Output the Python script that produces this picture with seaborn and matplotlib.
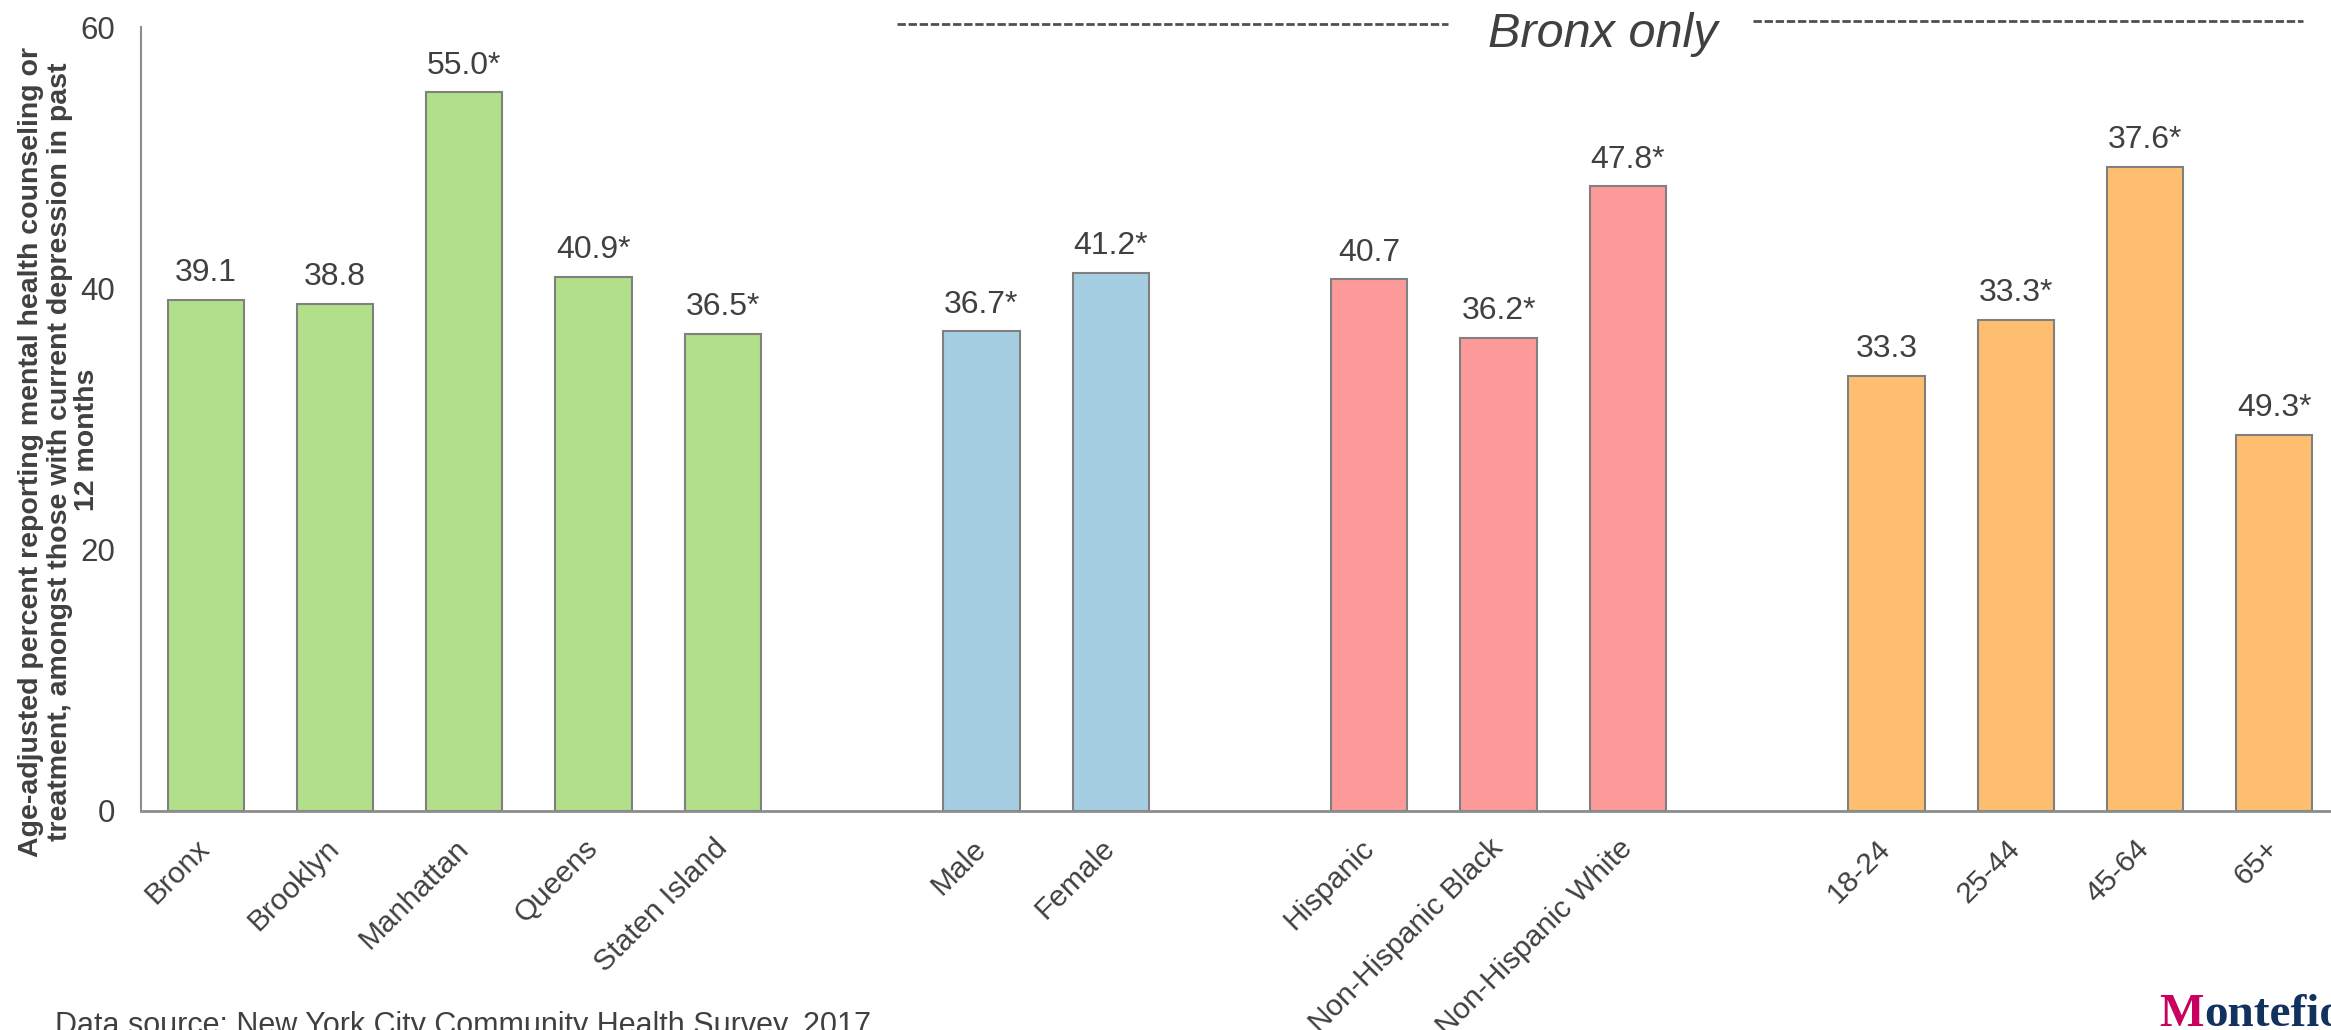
import numpy as np
import pandas as pd
import seaborn as sns
import matplotlib.pyplot as plt
from matplotlib.lines import Line2D

# --- data ---
boroughs = ["Bronx", "Brooklyn", "Manhattan", "Queens", "Staten Island"]
borough_values = [39.1, 38.8, 55.0, 40.9, 36.5]
borough_labels = ["39.1", "38.8", "55.0*", "40.9*", "36.5*"]

sexes = ["Male", "Female"]
sex_values = [36.7, 41.2]
sex_labels = ["36.7*", "41.2*"]

races = ["Hispanic", "Non-Hispanic Black", "Non-Hispanic White"]
race_values = [40.7, 36.2, 47.8]
race_labels = ["40.7", "36.2*", "47.8*"]

ages = ["18-24", "25-44", "45-64", "65+"]
age_values = [33.3, 37.6, 49.3, 28.8]
age_labels = ["33.3", "33.3*", "37.6*", "49.3*"]

group_colors = {"Borough": "#b2df8a", "Sex": "#a6cee3",
                "Race": "#fb9a99", "Age": "#fdbf6f"}

y_title_lines = ["Age-adjusted percent reporting mental health counseling or",
                 "treatment, amongst those with current depression in past",
                 "12 months"]
source = "Data source: New York City Community Health Survey, 2017"

# --- build table ---
rows = []
for grp, cats, vals, labs in [("Borough", boroughs, borough_values, borough_labels),
                              ("Sex", sexes, sex_values, sex_labels),
                              ("Race", races, race_values, race_labels),
                              ("Age", ages, age_values, age_labels)]:
    for c, v, l in zip(cats, vals, labs):
        rows.append([c, v, l, grp])
df = pd.DataFrame(rows, columns=["category", "value", "label", "group"])

# blank slots between the groups
order = boroughs + [" "] + sexes + ["  "] + races + ["   "] + ages

sns.set_style("white")
plt.rcParams["font.family"] = ["Liberation Sans", "DejaVu Sans"]
txt = "#404040"
axc = "#8c8c8c"

W, H = 2331, 1030
fig = plt.figure(figsize=(W / 100, H / 100), dpi=100)
ax = fig.add_axes([141 / W, 219.3 / H, 2198 / W, 783.6 / H])

sns.barplot(data=df, x="category", y="value", hue="group", order=order,
            palette=group_colors, saturation=1, dodge=False, width=0.59,
            errorbar=None, edgecolor="#808080", linewidth=1.5, legend=False,
            ax=ax)

ax.set_xlim(-0.5, len(order) - 0.5)
ax.set_ylim(0, 60)
ax.set_yticks([0, 20, 40, 60])
ax.set_xticks(range(len(order)))
ax.set_xticklabels(order, rotation=45, ha="right", va="center",
                   rotation_mode="anchor", fontsize=21.5, color=txt)
ax.set_xticks(np.arange(-0.5, len(order), 1), minor=True)
ax.tick_params(axis="x", which="major", length=0, pad=24)
ax.tick_params(axis="x", which="minor", length=6.5, width=1.5,
               color=axc, direction="out")
ax.tick_params(axis="y", length=5.5, width=1.5, color=axc, direction="out",
               pad=13, labelsize=22.5, labelcolor=txt)
ax.set_xlabel("")
ax.set_ylabel("")

sns.despine(ax=ax)
ax.spines["left"].set_color(axc)
ax.spines["left"].set_linewidth(1.5)
ax.spines["bottom"].set_color(axc)
ax.spines["bottom"].set_linewidth(2)

for c, v, l in zip(df["category"], df["value"], df["label"]):
    ax.annotate(l, (order.index(c), v), xytext=(0, 13.4),
                textcoords="offset points", ha="center", va="baseline",
                fontsize=23, color=txt)

# y title, one text per line
for line, xc, yc in zip(y_title_lines, [31, 60, 87], [452, 452, 440]):
    fig.text(xc / W, 1 - yc / H, line, rotation=90, ha="center", va="center",
             fontsize=20.5, fontweight="bold", color=txt)

# "Bronx only" header with dashed rules
fig.text(1603 / W, 1 - 47 / H, "Bronx only", ha="center", va="baseline",
         fontsize=35, style="italic", color=txt)
fig.add_artist(Line2D([897 / W, 1448 / W], [1 - 24 / H, 1 - 24 / H],
                      transform=fig.transFigure, color="#505050", lw=2,
                      linestyle=(0, (3, 1))))
fig.add_artist(Line2D([1753 / W, 2303 / W], [1 - 21 / H, 1 - 21 / H],
                      transform=fig.transFigure, color="#505050", lw=2,
                      linestyle=(0, (3, 1))))

fig.text(55 / W, -4 / H, source, ha="left", va="baseline",
         fontsize=22, color=txt)

# logo text
fig.text(2204 / W, 4 / H, "M", ha="right", va="baseline", fontsize=34,
         family="Liberation Serif", fontweight="bold", color="#c8005f")
fig.text(2204 / W, 4 / H, "ontefiore", ha="left", va="baseline", fontsize=34,
         family="Liberation Serif", fontweight="bold", color="#12325e")

fig.savefig("out.png", dpi=100)
